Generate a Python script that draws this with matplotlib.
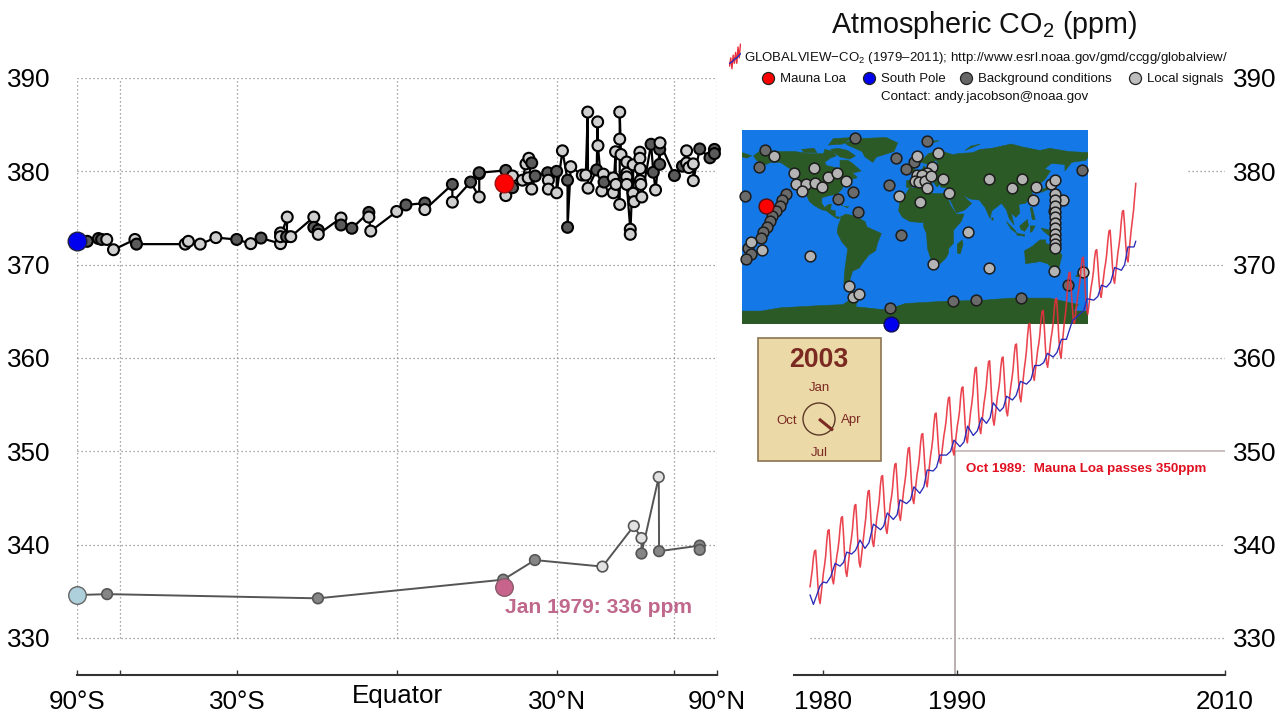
import numpy as np
import matplotlib
matplotlib.use("Agg")
import matplotlib.pyplot as plt
from matplotlib.patches import Polygon, Rectangle, Circle
from matplotlib.transforms import ScaledTranslation

plt.rcParams['font.family'] = ['Liberation Sans', 'DejaVu Sans']
plt.rcParams['mathtext.fontset'] = 'custom'
plt.rcParams['mathtext.rm'] = 'Liberation Sans'
plt.rcParams['mathtext.default'] = 'regular'

# ---- latitude section 2003: (sin latitude, ppm, kind) d=background l=local
sin_2003 = [-.968,-.933,-.923,-.907,-.886,-.819,-.814,-.662,-.652,-.615,-.566,-.501,-.457,-.425,-.364,-.364,-.364,-.343,-.345,-.332,
 -.260,-.260,-.246,-.246,-.175,-.175,-.141,-.088,-.088,-.082,-.001,.028,.087,.087,.173,.173,.230,.257,.257,.257,
 .340,.340,.361,.361,.392,.403,.412,.421,.410,.421,.432,.471,.473,.473,.499,.499,.517,.533,.533,.543,.579,.590,.596,.597,
 .624,.627,.628,.640,.645,.647,.676,.676,.683,.684,.696,.696,.696,.700,.718,.718,.718,.718,.729,.729,.738,.738,.741,
 .759,.759,.760,.760,.762,.765,.794,.801,.808,.821,.821,.822,.867,.892,.905,.905,.912,.926,.926,.946,.978,.992,.992]
ppm_2003 = [372.5,372.8,372.7,372.7,371.6,372.7,372.2,372.2,372.5,372.2,372.9,372.7,372.25,372.85,372.25,373.4,373.0,375.1,373.0,373.0,
 375.1,374.0,373.7,373.25,375.0,374.25,373.9,375.6,375.1,373.6,375.7,376.4,376.6,375.9,378.6,376.7,378.85,377.25,379.75,379.85,
 380.1,377.4,379.5,378.25,379.05,380.8,381.4,380.9,379.3,378.1,379.5,379.85,379.05,378.1,380.0,377.7,382.2,379.05,374.0,380.5,379.6,379.6,386.35,378.2,
 380.15,385.3,382.75,377.9,379.7,378.85,379.3,377.7,382.1,378.6,376.45,383.45,386.35,381.8,381.0,379.8,379.4,378.6,373.8,373.25,380.7,377.65,376.75,
 382.05,381.4,380.3,379.0,378.6,377.25,382.9,379.9,378.0,382.35,380.75,383.05,379.55,380.55,382.2,380.9,380.4,380.8,379.0,382.4,381.45,382.35,381.9]
kind_2003 = list(
 "dddl" "l" "l" "d" "l" "l" "l" "l" "d" "l" "d" "l" "l" "l" "l" "d" "l"
 "l" "d" "d" "l" "l" "d" "d" "d" "l" "l" "l" "d" "d" "l" "d" "l" "d" "l" "d" "d"
 "d" "l" "l" "d" "l" "l" "l" "d" "l" "l" "d" "d" "l" "l" "d" "l" "l" "d" "d" "l" "l" "l" "l" "l"
 "d" "l" "l" "l" "l" "d" "l" "l" "l" "l" "l" "l" "l" "l" "l" "l" "l" "l" "l" "l" "l" "l" "l"
 "l" "l" "l" "l" "l" "l" "d" "d" "l" "d" "d" "l" "d" "d" "l" "l" "l" "l" "l" "d" "d" "d" "d")

sin_1979 = [-.906,-.247,.332,.431,.642,.740,.764,.764,.818,.819,.946,.946]
ppm_1979 = [334.7,334.25,336.25,338.35,337.65,342.0,340.7,339.05,347.25,339.3,339.9,339.45]
kind_1979 = list("dddd" "l" "l" "l" "d" "l" "d" "d" "d")

south_pole_2003, mauna_loa_2003 = (-1.0, 372.5), (.334, 378.8)
south_pole_1979, mauna_loa_1979 = (-1.0, 334.6), (.334, 335.5)

# ---- Mauna Loa, monthly from Jan 1979 to May 2003
mauna_loa = [
 335.5,336.4,337.3,338.6,339.3,339.4,337.7,335.7,334.2,333.7,334.8,335.9,
 337.0,337.8,338.8,340.4,341.5,341.6,339.9,337.8,336.3,335.8,336.8,337.8,
 338.8,339.5,340.5,341.9,342.9,343.0,341.1,338.8,337.1,336.6,337.7,338.8,
 339.8,340.6,341.6,343.1,344.2,344.3,342.3,340.0,338.1,337.6,338.7,339.9,
 341.0,341.9,342.9,344.6,345.7,345.8,344.0,341.9,340.3,339.8,340.9,341.9,
 343.0,343.8,344.7,346.3,347.3,347.4,345.5,343.4,341.7,341.2,342.3,343.3,
 344.4,345.1,346.1,347.6,348.6,348.7,346.9,344.7,343.1,342.6,343.7,344.8,
 345.9,346.7,347.7,349.2,350.3,350.4,348.6,346.5,344.9,344.4,345.5,346.5,
 347.6,348.3,349.3,350.8,351.8,351.9,350.2,348.2,346.7,346.2,347.3,348.4,
 349.5,350.3,351.3,352.9,354.0,354.1,352.5,350.6,349.1,348.7,349.7,350.7,
 351.7,352.4,353.3,354.7,355.7,355.8,353.9,351.8,350.1,349.6,350.6,351.6,
 352.7,353.4,354.3,355.8,356.8,356.9,355.1,353.0,351.4,350.9,352.0,353.2,
 354.3,355.1,356.2,357.8,358.9,359.0,356.9,354.4,352.5,351.9,353.0,354.1,
 355.2,356.0,357.0,358.5,359.6,359.7,357.6,355.2,353.4,352.8,353.8,354.8,
 355.9,356.6,357.5,359.0,360.0,360.1,358.2,356.0,354.3,353.8,354.9,356.0,
 357.0,357.8,358.8,360.3,361.4,361.5,359.6,357.5,355.8,355.3,356.5,357.7,
 358.8,359.7,360.8,362.4,363.6,363.7,361.9,359.7,358.1,357.6,358.7,359.7,
 360.8,361.5,362.5,364.0,365.0,365.1,363.3,361.1,359.5,359.0,360.0,361.1,
 362.1,362.8,363.8,365.3,366.3,366.4,364.5,362.2,360.5,360.0,361.3,362.6,
 363.9,364.8,366.0,367.8,369.1,369.2,367.6,365.6,364.1,363.7,364.7,365.7,
 366.7,367.4,368.3,369.7,370.7,370.8,369.0,366.8,365.2,364.7,365.7,366.6,
 367.6,368.3,369.2,370.6,371.5,371.6,370.1,368.3,366.9,366.5,367.5,368.5,
 369.5,370.2,371.2,372.6,373.6,373.7,372.0,370.0,368.5,368.0,369.1,370.2,
 371.3,372.1,373.1,374.6,375.7,375.8,374.2,372.2,370.7,370.3,371.5,372.7,
 373.8,374.8,375.8,377.3,378.7]
mauna_years = 1979 + np.arange(len(mauna_loa)) / 12

# ---- South Pole, read at its turning points and along its rises
pole_years = [1979.0,1979.25,1979.75,1980.0,1980.24,1980.55,1980.87,1981.24,1981.5,1981.74,1982.11,1982.4,1982.73,1983.1,1983.4,1983.73,1984.27,1984.5,1984.77,
 1985.22,1985.5,1985.72,1986.21,1986.5,1986.76,1987.2,1987.5,1987.75,1988.2,1988.45,1988.7,1989.2,1989.5,1989.75,1990.2,1990.5,1990.77,1991.19,1991.5,1991.81,1992.18,1992.45,1992.68,
 1993.18,1993.45,1993.68,1994.12,1994.4,1994.72,1995.17,1995.5,1995.79,1996.16,1996.45,1996.74,1997.16,1997.45,1997.78,1998.15,1998.6,1999.15,1999.45,1999.69,2000.2,2000.5,2000.77,
 2001.14,2001.45,2001.76,2002.26,2002.5,2002.75,2003.0,2003.2,2003.33]
pole_ppm = [334.6,333.6,335.6,336.0,335.9,336.6,338.0,337.7,338.1,339.2,339.0,339.4,340.5,339.6,340.2,342.2,341.6,342.0,343.4,
 342.7,343.2,344.8,344.4,344.8,346.2,345.5,346.2,348.0,347.9,348.3,349.6,349.6,350.0,351.2,350.5,351.0,352.7,351.7,352.2,353.6,353.0,353.6,355.2,
 354.3,354.7,355.9,355.5,356.0,357.5,357.2,357.7,359.2,359.2,359.5,360.5,360.1,360.6,362.0,362.0,364.0,364.7,365.1,366.35,366.2,366.6,367.8,
 367.6,368.1,369.7,369.4,370.0,371.9,371.9,371.9,372.5]

# ---- stations on the map
dark_lon = [-62.4,12.1,-156.4,-162.3,-20.1,-1,-9.7,174,-27.1,-64.5,-80.1,-176.9,-134.6,-138.7,-140.8,-144.6,-148.5,-150.5,-154.4,-158.5,-160.2,-173.4,-170.6,-175.9,-59.3,-14.6,-26.4,39.5,63.1,110.3,158.8,144.9]
dark_lat = [82.9,79.5,71.7,56,64,60.6,53.8,53.2,39.3,32.8,26,28.4,30.6,25,19.8,14.8,10.5,5.8,.3,-5,-10.2,-19.8,-25.1,-29.7,13.6,-7.8,-75.5,-68.7,-67.5,-66.2,-54.2,14.5]
light_lon = [-147.1,-126.2,-104.8,-123.5,-113.4,-104.1,-117.2,-97.1,-90.2,-81.5,-72.2,2.1,24.3,17.3,-16.3,5.2,12.1,1.7,6.9,.0,4.5,10.4,17,28.8,12.8,35,77,100.6,111,125.9,141.5,145.3,123.1,153.6,
 145.6,145.6,145.6,145.6,145.6,145.6,145.6,145.6,145.6,145.6,145.6,54.8,18.4,77.3,144.6,174.8,-109.3,-159.6,-170.6,-68.7,-64.2,-58.6]
light_lat = [65.5,49.8,54.4,39.6,40.2,40.5,33.1,36.8,46.4,50.4,43,66.2,68.3,56,28.7,23.5,50.4,48.2,48.2,42.7,42,42.7,47.3,44.2,35.8,31.5,44.2,36.5,44.5,37.1,39.6,43.3,24.7,24.7,
 30.3,25,19.8,14.2,9.6,4,-1.3,-6.5,-11.5,-16.1,-19.8,-4.4,-34.4,-37.8,-40.6,-41.5,-26.9,-21.1,-14,-54.8,-64.7,-62.2]
mauna_lonlat = (-155.4, 19.8)
pole_lonlat = (-25, -90)

land = [
 [(-168,66),(-162,70),(-156,71),(-140,70),(-125,70),(-110,68),(-95,68),(-94,72),(-85,70),(-82,66),(-88,64),(-94,60),(-92,57),(-82,55),(-80,51),(-78,53),(-78,62),(-70,62),(-65,59),(-60,55),(-56,52),(-65,50),(-60,46),(-66,44),(-70,43),(-74,40),(-76,35),(-81,31),(-80,26),(-82,27),(-84,30),(-90,29),(-97,27),(-97,22),(-94,18),(-90,21),(-87,21),(-88,16),(-83,15),(-83,10),(-78,9),(-80,7.5),(-85,10),(-92,15),(-97,16),(-105,20),(-110,24),(-113,30),(-115,30),(-120,34),(-124,40),(-124,48),(-130,54),(-140,60),(-150,60),(-155,58),(-165,54),(-158,58),(-165,62)],
 [(-73,78),(-60,82),(-30,83),(-18,78),(-22,70),(-40,65),(-44,60),(-52,65),(-55,70),(-70,76)],
 [(-80,73),(-70,71),(-62,66),(-68,63),(-78,65),(-88,72)],
 [(-90,76),(-85,82),(-65,83),(-75,77)],
 [(-118,72),(-105,73),(-102,69),(-115,69)],
 [(-78,9),(-72,12),(-62,10),(-52,5),(-50,0),(-35,-6),(-39,-15),(-41,-22),(-48,-26),(-55,-34),(-58,-38),(-65,-41),(-68,-50),(-68,-55),(-74,-52),(-73,-40),(-70,-20),(-76,-14),(-81,-5),(-80,1),(-77,8)],
 [(-6,36),(10,37),(11,33),(20,31),(32,31),(34,27),(37,20),(43,12),(51,12),(48,5),(40,-3),(40,-15),(35,-20),(35,-24),(32,-29),(26,-34),(18,-34),(13,-20),(12,-6),(9,0),(9,4),(-5,5),(-13,9),(-17,15),(-16,22),(-10,30)],
 [(-9,37),(-9,43),(-1,44),(-4,48),(4,52),(8,54),(9,57),(12,54),(20,55),(24,59),(22,62),(18,60),(17,56),(11,59),(5,60),(14,68),(25,71),(40,67),(44,68),(60,69),(68,72),(80,73),(100,77),(113,74),(130,71),(140,73),(160,70),(180,69),(180,65),(178,62),(163,60),(156,52),(156,58),(142,59),(135,54),(141,52),(135,44),(128,39),(127,35),(121,38),(122,30),(115,22),(108,21),(109,13),(105,9),(100,13),(103,2),(98,8),(95,16),(90,22),(80,15),(78,8),(73,18),(67,25),(57,26),(50,30),(56,24),(59,22),(52,16),(43,13),(35,28),(35,36),(27,37),(26,40),(23,37),(19,42),(13,45),(18,40),(12,42),(8,44),(3,43),(0,39),(-5,36)],
 [(-180,69),(-170,66),(-175,64),(-180,65)],
 [(-5,50),(1,51),(-2,56),(-5,58),(-6,55)], [(-10,52),(-6,52),(-6,55),(-9,55)],
 [(-24,65),(-14,66),(-15,64),(-22,63.5)],
 [(131,32),(136,34),(140,35),(142,40),(141,45),(139,38),(133,35)],
 [(95,5),(104,-3),(106,-6),(100,-2)], [(106,-6),(114,-7),(114,-8.5),(106,-7.5)],
 [(109,1),(117,7),(118,1),(114,-4),(110,-2)], [(120,1),(125,1),(122,-4),(120,-5)],
 [(120,18),(122,18),(125,7),(122,7)],
 [(131,-1),(141,-3),(150,-10),(141,-9),(134,-4)],
 [(44,-16),(49,-12),(50,-16),(47,-25),(44,-24)],
 [(114,-22),(122,-18),(130,-12),(136,-12),(136,-15),(141,-17),(142,-11),(146,-19),(153,-26),(150,-37),(143,-39),(138,-34),(130,-32),(124,-33),(115,-34)],
 [(145,-41),(148,-41),(147,-43.5)], [(172,-41),(174,-36),(178,-38),(172,-46),(167,-46)],
 [(-84,22),(-75,20),(-78,21),(-82,23)], [(-74,19),(-69,19),(-70,18)],
 [(80,9),(82,7),(80,6)], [(120,22),(122,25),(121,25)],
 [(14,77),(25,80),(20,80)], [(52,71),(68,77),(58,75)],
 [(-180,-78),(-160,-78),(-140,-75),(-100,-73),(-75,-72),(-60,-63),(-58,-65),(-62,-74),(-30,-77),(-10,-71),(30,-69),(70,-68),(100,-66),(140,-66),(170,-72),(165,-78),(180,-78),(180,-90),(-180,-90)],
]

left_ticks = [-1, -.866, -.5, 0, .5, .866, 1]
left_tick_labels = ['90°S', '', '30°S', 'Equator', '30°N', '', '90°N']
ppm_ticks = [330, 340, 350, 360, 370, 380, 390]
year_ticks = [1980, 1990, 2010]
grid_start = {330: 1979.0, 340: 1983.7, 360: 1997.1, 370: 2002.5, 380: 2007.2}
passes_350 = 1989.8
clock_month = 4.3
DARK3, LIGHT3 = '#5a5a5a', '#cfcfcf'
DARK7, LIGHT7 = '#868686', '#e2e2e2'

W, H = 1280, 720
fig = plt.figure(figsize=(W/100, H/100), dpi=100, facecolor='white')
def px_axes(x, y, w, h, **kw):
    return fig.add_axes([x/W, 1-(y+h)/H, w/W, h/H], **kw)

TOP, BOT = 78, 675
ymin = 390 - (BOT-TOP)/(560/60)

# map
m = px_axes(742, 130, 346, 194, zorder=1)
m.set_facecolor('#1478e6')
m.set_xlim(-180, 180); m.set_ylim(-90, 90)
m.set_xticks([]); m.set_yticks([])
for s in m.spines.values(): s.set_visible(False)
for poly in land:
    m.add_patch(Polygon(poly, closed=True, fc='#2c5a26', ec='#2c5a26', lw=.4))
m.scatter(dark_lon, dark_lat, s=60, c='#6a6a6a', edgecolors='#1c1c1c', lw=1.1, clip_on=False, zorder=3)
m.scatter(light_lon, light_lat, s=60, c='#b4b4b4', edgecolors='#1c1c1c', lw=1.1, clip_on=False, zorder=3)
m.scatter(*mauna_lonlat, s=115, c='#ff0000', edgecolors='#501010', lw=1, clip_on=False, zorder=4)
m.scatter(*pole_lonlat, s=115, c='#0000ee', edgecolors='#101050', lw=1, clip_on=False, zorder=4)

# left panel
a = px_axes(77, TOP, 640, BOT-TOP, zorder=2)
a.patch.set_alpha(0)
a.set_xlim(-1, 1); a.set_ylim(ymin, 390)
for v in ppm_ticks:
    a.hlines(v, -1, 1, colors='#8a8a8a', lw=.9, linestyles=(0, (1, 2.2)), zorder=1)
a.vlines(left_ticks, 330, 390, colors='#8a8a8a', lw=.9, linestyles=(0, (1, 2.2)), zorder=1)
a.plot(sin_1979, ppm_1979, color='#555555', lw=1.4, zorder=2, clip_on=False)
a.plot([south_pole_1979[0], sin_1979[0]], [south_pole_1979[1], ppm_1979[0]], color='#555555', lw=1.4, zorder=2)
a.scatter(sin_1979, ppm_1979, s=58, c=[DARK7 if k == 'd' else LIGHT7 for k in kind_1979], edgecolors='#555555', lw=1.2, zorder=3, clip_on=False)
a.scatter(*south_pole_1979, s=160, c='#aecfdc', edgecolors='#666666', lw=1, zorder=4, clip_on=False)
a.scatter(*mauna_loa_1979, s=160, c='#c8648c', edgecolors='#8a5a6a', lw=1, zorder=4)
a.plot(sin_2003, ppm_2003, color='black', lw=1.6, zorder=2, clip_on=False)
a.plot([south_pole_2003[0], sin_2003[0]], [south_pole_2003[1], ppm_2003[0]], color='black', lw=1.6, zorder=2)
a.scatter(sin_2003, ppm_2003, s=62, c=[DARK3 if k == 'd' else LIGHT3 for k in kind_2003], edgecolors='black', lw=1.5, zorder=3, clip_on=False)
a.scatter(*south_pole_2003, s=180, c='#0000ee', edgecolors='#202040', lw=1, zorder=4, clip_on=False)
a.scatter(*mauna_loa_2003, s=180, c='#ff0000', edgecolors='#a01010', lw=1, zorder=4)
a.text(.338, 333.3, 'Jan 1979: 336 ppm', color='#c0688c', fontsize=15.15, fontweight='bold', va='center', ha='left', zorder=5)
for s in ('top', 'left', 'right'): a.spines[s].set_visible(False)
a.spines['bottom'].set_linewidth(1.5); a.spines['bottom'].set_color('#333333')
a.set_xticks(left_ticks); a.set_xticklabels(left_tick_labels, fontsize=18.7)
a.set_yticks(ppm_ticks); a.set_yticklabels([str(v) for v in ppm_ticks], fontsize=18.7)
a.tick_params(axis='x', direction='in', length=3.6, width=1, color='#333333', pad=11)
a.tick_params(axis='y', length=0, pad=19.4)
eq = a.get_xticklabels()[3]
eq.set_transform(eq.get_transform() + ScaledTranslation(0, 6/100, fig.dpi_scale_trans))

# right panel
r = px_axes(794, TOP, 431, BOT-TOP, zorder=3)
r.patch.set_alpha(0)
r.set_xlim(1977.8, 2010); r.set_ylim(ymin, 390)
for v, x0 in grid_start.items():
    r.hlines(v, x0, 2010, colors='#8a8a8a', lw=.9, linestyles=(0, (1, 2.2)), zorder=1)
r.hlines(350, passes_350, 2010, colors='#c4b4b4', lw=1.2, zorder=1)
r.vlines(passes_350, ymin, 350, colors='#b8b0ae', lw=1.4, zorder=1)
r.plot(mauna_years, mauna_loa, color='#e8303c', lw=1.15, alpha=.9, zorder=3)
r.plot(pole_years, pole_ppm, color='#2a2ab8', lw=.95, zorder=4)
r.text(1990.62, 348.1, 'Oct 1989:  Mauna Loa passes 350ppm', color='#e01020', fontsize=9.6, fontweight='bold', va='center', ha='left')
for s in ('top', 'left', 'right'): r.spines[s].set_visible(False)
r.spines['bottom'].set_linewidth(1.5); r.spines['bottom'].set_color('#333333')
r.yaxis.tick_right()
r.set_xticks(year_ticks); r.set_xticklabels([str(v) for v in year_ticks], fontsize=18.7)
r.set_yticks(ppm_ticks); r.set_yticklabels([str(v) for v in ppm_ticks], fontsize=18.7)
r.tick_params(axis='x', direction='in', length=3.6, width=1, color='#333333', pad=11)
r.tick_params(axis='y', length=0, pad=5.8)

# header, legend and clock on a pixel overlay
o = px_axes(0, 0, W, H, zorder=5)
o.set_xlim(0, W); o.set_ylim(H, 0); o.axis('off'); o.patch.set_alpha(0)
o.text(984, 25, r'Atmospheric CO$_{2}$ (ppm)', fontsize=20.7, ha='center', va='center', color='#111111')
o.text(744, 57.5, 'GLOBALVIEW\u2212CO$_{2}$ (1979\u20132011); http://www.esrl.noaa.gov/gmd/ccgg/globalview/', fontsize=9.58, ha='left', va='center', color='#111111')
o.text(985, 97, 'Contact: andy.jacobson@noaa.gov', fontsize=9.6, ha='center', va='center', color='#111111')
for x, c, t in [(768, '#ff0000', 'Mauna Loa'), (869, '#0000ee', 'South Pole'), (966, '#666666', 'Background conditions'), (1135, '#bdbdbd', 'Local signals')]:
    o.scatter([x], [78], s=75, c=c, edgecolors='#222222', lw=.9)
    o.text(x+12, 79, t, fontsize=9.5, ha='left', va='center', color='#111111')
o.add_patch(Rectangle((758, 338), 123, 123, fc='#ebd9a8', ec='#8c7450', lw=1.2, zorder=1))
C = '#7b2a22'
o.text(819, 360, '2003', fontsize=19.2, fontweight='bold', color=C, ha='center', va='center')
for x, y, t in [(819, 388, 'Jan'), (787, 421, 'Oct'), (851, 420, 'Apr'), (819, 453, 'Jul')]:
    o.text(x, y, t, fontsize=9.5, color=C, ha='center', va='center')
o.add_patch(Circle((819, 419), 16, fc='none', ec='#5c3a28', lw=1, zorder=2))
ang = 2*np.pi*clock_month/12
o.plot([819, 819+18*np.sin(ang)], [419, 419-18*np.cos(ang)], color=C, lw=2.2, zorder=3, solid_capstyle='butt')

# small icon beside the source line
ic = px_axes(729, 43, 12, 27, zorder=6)
ic.axis('off'); ic.patch.set_alpha(0)
ic.plot([0,1,2,3,4,5,6,7,8,9], [2,5,1,6,3,7,3,9,5,10], color='#e8303c', lw=1)
ic.plot([0,2,4,6,9], [3,3.5,4.5,5,6.5], color='#2a2ab8', lw=1)

fig.savefig('out.png', dpi=100)
